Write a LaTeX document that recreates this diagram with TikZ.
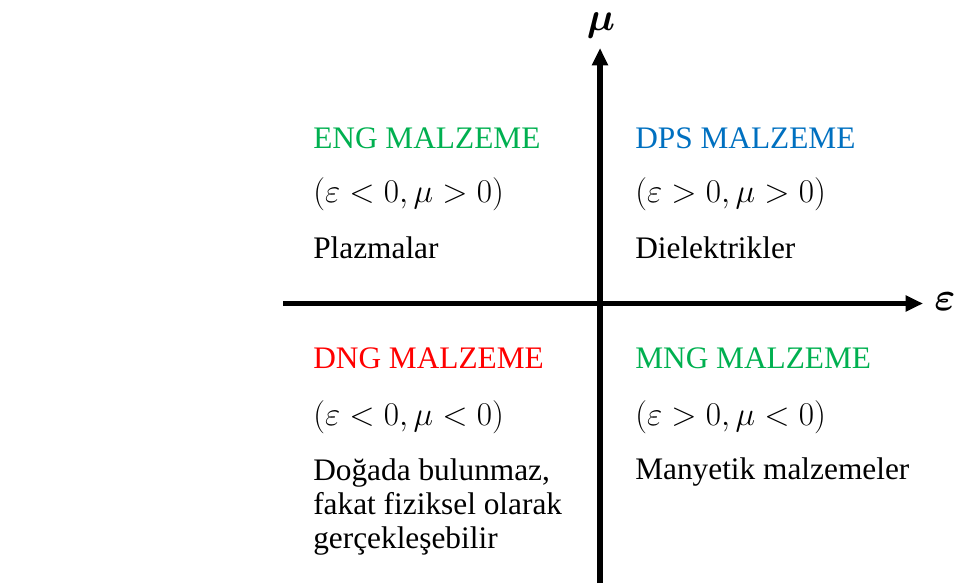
\documentclass[tikz,border=0pt]{standalone}
\usepackage{amsmath,amssymb}
\usepackage{graphicx}
\usepackage{fontspec}
\setmainfont{Liberation Serif}
\usetikzlibrary{arrows.meta}
\definecolor{enggreen}{RGB}{0,176,80}
\definecolor{dpsblue}{RGB}{0,112,192}
\definecolor{dngred}{RGB}{255,0,0}
\newcommand{\biglab}[1]{\scalebox{1.2}{$\boldsymbol{#1}$}}
\tikzset{
  axisline/.style={line width=3.9pt,-{Triangle[length=13pt,width=11.5pt]}},
  axlabel/.style={inner sep=0pt,font=\fontsize{24}{28}\selectfont},
  txt/.style={anchor=base west,inner sep=0pt,font=\rmfamily\fontsize{23.5}{25.5}\selectfont},
  multi/.style={txt,align=left}
}
\begin{document}
\begin{tikzpicture}[x=0.75pt,y=-0.75pt]
\useasboundingbox (0,0) rectangle (957,588);
% axes
\coordinate (xs) at (283,303.5);
\coordinate (xe) at (923,303.5);
\coordinate (ys) at (600,583);
\coordinate (ye) at (600,48);
\draw[axisline] (xs) -- (xe);
\draw[axisline] (ys) -- (ye);
\node[axlabel] (mu) at (601,26) {\biglab{\mu}};
\node[axlabel] (eps) at (945,302) {\biglab{\varepsilon}};
% ENG
\node[txt,text=enggreen] (eng) at (313,149) {ENG MALZEME};
\node[txt] (engc) at (313,203) {$(\varepsilon<0,\mu>0)$};
\node[txt] (engx) at (313,258) {Plazmalar};
% DPS
\node[txt,text=dpsblue] (dps) at (635,149) {DPS MALZEME};
\node[txt] (dpsc) at (635,203) {$(\varepsilon>0,\mu>0)$};
\node[txt] (dpsx) at (635,258) {Dielektrikler};
% DNG
\node[txt,text=dngred] (dng) at (313,368) {DNG MALZEME};
\node[txt] (dngc) at (313,425) {$(\varepsilon<0,\mu<0)$};
\node[multi] (dngx) at (313,548) {Doğada bulunmaz,\\fakat fiziksel olarak\\gerçekleşebilir};
% MNG
\node[txt,text=enggreen] (mng) at (635,368) {MNG MALZEME};
\node[txt] (mngc) at (635,425) {$(\varepsilon>0,\mu<0)$};
\node[txt] (mngx) at (635,479) {Manyetik malzemeler};
\end{tikzpicture}
\end{document}
